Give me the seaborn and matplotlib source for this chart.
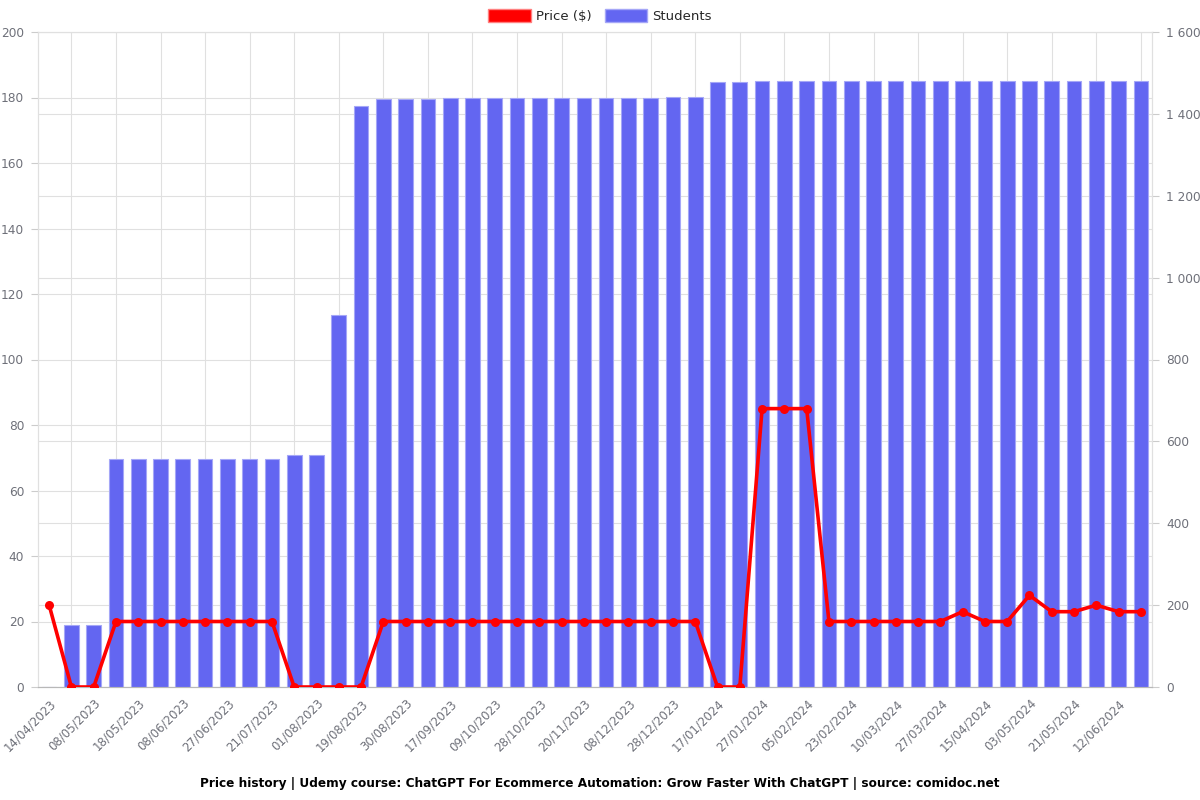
import numpy as np
import pandas as pd
import matplotlib
matplotlib.use("Agg")
import matplotlib.pyplot as plt
import matplotlib.ticker as mticker
from matplotlib.patches import Patch
import seaborn as sns

# ---- data ----
date_labels = ["14/04/2023", "08/05/2023", "18/05/2023", "08/06/2023", "27/06/2023",
               "21/07/2023", "01/08/2023", "19/08/2023", "30/08/2023", "17/09/2023",
               "09/10/2023", "28/10/2023", "20/11/2023", "08/12/2023", "28/12/2023",
               "17/01/2024", "27/01/2024", "05/02/2024", "23/02/2024", "10/03/2024",
               "27/03/2024", "15/04/2024", "03/05/2024", "21/05/2024", "12/06/2024"]

price = [25, 0, 0, 20, 20, 20, 20, 20, 20, 20,
         20, 0, 0, 0, 0, 20, 20, 20, 20, 20,
         20, 20, 20, 20, 20, 20, 20, 20, 20, 20,
         0, 0, 85, 85, 85, 20, 20, 20, 20, 20,
         20, 23, 20, 20, 28, 23, 23, 25, 23, 23]

students = [0, 151, 151, 557, 557, 557, 557, 557, 557, 557,
            557, 567, 567, 909, 1419, 1436, 1436, 1436, 1438, 1438,
            1438, 1438, 1438, 1439, 1439, 1439, 1440, 1440, 1441, 1441,
            1477, 1477, 1480, 1480, 1480, 1480, 1480, 1480, 1480, 1480,
            1480, 1480, 1480, 1480, 1480, 1480, 1480, 1480, 1480, 1480]

title = ("Price history | Udemy course: ChatGPT For Ecommerce Automation: "
         "Grow Faster With ChatGPT | source: comidoc.net")

n = len(price)
idx = np.arange(n)
df = pd.DataFrame({"i": idx, "price": price, "students": students})

bar_color = "#6366F1"
line_color = "#FF0000"
grid_color = "#E0E0E0"
text_color = "#6E7079"

sns.set_style("white")
plt.rcParams["font.family"] = ["DejaVu Sans"]

fig = plt.figure(figsize=(12, 8), dpi=100)
ax_s = fig.add_axes([38 / 1200, 1 - 687 / 800, (1152 - 38) / 1200, (687 - 32) / 800])
ax_p = ax_s.twinx()

# bars (students) on the base axes, shown on the right
sns.barplot(data=df, x="i", y="students", ax=ax_s, color=bar_color,
            width=0.66, saturation=1, edgecolor="#A5A7F7", linewidth=0.8,
            zorder=3)

# line (price) on the twin axes, shown on the left
sns.lineplot(data=df, x="i", y="price", ax=ax_p, color=line_color,
             linewidth=2.6, marker="o", markersize=6.5, markeredgewidth=0,
             zorder=5)

ax_s.set_xlim(-0.5, n - 0.5)
ax_s.set_ylim(0, 1600)
ax_p.set_ylim(0, 200)

# y axes placement
ax_s.yaxis.tick_right()
ax_s.yaxis.set_label_position("right")
ax_p.yaxis.tick_left()
ax_p.yaxis.set_label_position("left")

ax_s.set_yticks(np.arange(0, 1601, 200))
ax_s.yaxis.set_major_formatter(mticker.FuncFormatter(
    lambda v, _: f"{int(v):,}".replace(",", " ")))
# price grid (every 20 $) expressed in student units
ax_s.set_yticks(np.arange(0, 1601, 160), minor=True)
ax_p.set_yticks(np.arange(0, 201, 20))

# x ticks: labels at even categories, tick marks/grid at odd ones
ax_s.set_xticks(idx[::2])
ax_s.set_xticklabels(date_labels, rotation=45, ha="right",
                     rotation_mode="anchor", fontsize=8.5, color=text_color)
ax_s.set_xticks(idx[1::2], minor=True)

ax_s.set_xlabel("")
ax_s.set_ylabel("")
ax_p.set_xlabel("")
ax_p.set_ylabel("")

ax_s.set_axisbelow(True)
ax_s.grid(True, which="major", axis="y", color=grid_color, linewidth=0.8)
ax_s.grid(True, which="minor", axis="y", color=grid_color, linewidth=0.8)
ax_s.grid(True, which="minor", axis="x", color=grid_color, linewidth=0.8)
ax_p.grid(False)

ax_s.tick_params(axis="x", which="major", length=0, pad=7)
ax_s.tick_params(axis="x", which="minor", length=5, color="#CCCCCC")
ax_s.tick_params(axis="y", which="major", right=True, length=5, color="#CCCCCC",
                 labelsize=8.7, labelcolor=text_color, pad=5)
ax_s.tick_params(axis="y", which="minor", length=0)
ax_p.tick_params(axis="y", left=True, right=False, length=5, color="#CCCCCC",
                 labelsize=8.7, labelcolor=text_color, pad=5)

for a in (ax_s, ax_p):
    for side in ("top", "left", "right", "bottom"):
        a.spines[side].set_visible(True)
        a.spines[side].set_color(grid_color)
        a.spines[side].set_linewidth(0.8)
ax_s.spines["bottom"].set_color("#B8B8B8")
ax_p.spines["bottom"].set_color("#B8B8B8")

# legend
handles = [Patch(facecolor=line_color, edgecolor="#FF8080", label="Price ($)"),
           Patch(facecolor=bar_color, edgecolor="#A5A7F7", label="Students")]
fig.legend(handles=handles, loc="center", bbox_to_anchor=(0.5, 1 - 16 / 800),
           ncol=2, frameon=False, fontsize=9.5, handlelength=3.2,
           handleheight=1.2, handletextpad=0.4, columnspacing=1.0)

fig.text(0.5, 1 - 783 / 800, title, ha="center", va="center",
         fontsize=8.7, fontweight="bold", color="black")

fig.savefig("out.png", dpi=100)
